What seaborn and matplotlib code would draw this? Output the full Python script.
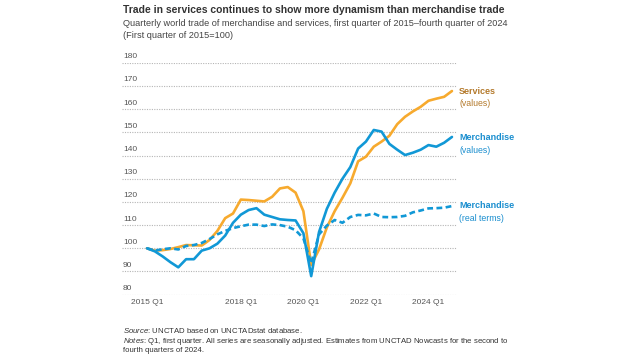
import pandas as pd
import numpy as np
from matplotlib import pyplot as plt
from matplotlib import transforms
import seaborn as sns

# Quarterly index values, 2015 Q1 .. 2024 Q4 (2015 Q1 = 100)
quarters = [f"{y} Q{q}" for y in range(2015, 2025) for q in range(1, 5)]

services = [100, 99, 99.2, 99.7, 100.5, 101.4, 101.3, 101.2, 103.6, 107.5,
            113, 115, 121, 120.8, 120.5, 120.2, 122.2, 125.8, 126.4, 124,
            116, 92.8, 99.5, 109, 116, 121.8, 128, 137.5, 139.5, 143.8,
            146, 148.5, 153.5, 156.7, 159, 161, 163.6, 164.5, 165.3, 167.8]

merch_values = [100, 98.7, 96.5, 94, 91.8, 95.3, 95.3, 99, 100, 102,
                105.5, 111, 114.5, 116.5, 117.3, 114.5, 113.5, 112.5, 112.2, 112,
                106.5, 88, 107, 117, 124, 130, 135, 143, 146, 151,
                150.3, 145, 142.5, 140.2, 141.2, 142.5, 144.5, 143.8, 145.5, 148]

merch_real = [100, 99, 99.6, 100, 99.5, 101, 101.4, 102.3, 104, 106,
              107.5, 108.7, 109.5, 110.2, 110.2, 109.6, 110.3, 110, 109.3, 107.8,
              104.3, 93.5, 106, 109.8, 112.2, 111, 113.5, 114.4, 114.2, 115,
              113.5, 113.4, 113.5, 114, 115.5, 116.3, 117.2, 117.3, 117.5, 118.2]

xtick_pos = [0, 12, 20, 28, 36]
xtick_labels = ["2015 Q1", "2018 Q1", "2020 Q1", "2022 Q1", "2024 Q1"]
yticks = list(range(80, 190, 10))

orange = "#F7AA2E"
blue = "#1198D6"

df = pd.DataFrame({
    "t": list(range(len(quarters))) * 3,
    "value": services + merch_values + merch_real,
    "series": ["Services"] * 40 + ["Merchandise"] * 40 + ["Merchandise real"] * 40,
})

sns.set_style("white")
plt.rcParams["font.family"] = ["Liberation Sans", "DejaVu Sans"]
plt.rcParams["mathtext.fontset"] = "custom"
plt.rcParams["mathtext.it"] = "Liberation Sans:italic"
plt.rcParams["mathtext.rm"] = "Liberation Sans"

fig = plt.figure(figsize=(6.4, 3.6), dpi=100)
ax = fig.add_axes([0.1906, 0.1814, 0.5234, 0.6444])

sns.lineplot(data=df, x="t", y="value", hue="series", style="series",
             palette={"Services": orange, "Merchandise": blue, "Merchandise real": blue},
             dashes={"Services": "", "Merchandise": "", "Merchandise real": (2.2, 1.3)},
             linewidth=1.9, legend=False, ax=ax, zorder=3)

ax.set_xlim(-3.2, 39.64)
ax.set_ylim(80, 180)
for s in ax.spines.values():
    s.set_visible(False)
ax.set_xlabel("")
ax.set_ylabel("")

# dotted gridlines with labels sitting above them
ax.set_yticks(yticks)
ax.set_yticklabels([])
ax.tick_params(axis="y", length=0)
ax.grid(axis="y", color="#B5B5B5", linestyle=(0, (1, 1.2)), linewidth=0.8, zorder=0)
ax.grid(axis="x", visible=False)
lab_tr = transforms.offset_copy(ax.get_yaxis_transform(), fig=fig, x=1, y=2.5, units="dots")
for v in yticks:
    ax.text(0, v, str(v), transform=lab_tr, ha="left", va="bottom",
            fontsize=6.0, color="#555555")

ax.set_xticks(xtick_pos)
ax.set_xticklabels(xtick_labels, fontsize=6.0, color="#555555")
ax.tick_params(axis="x", length=0, pad=3)

# series labels at the right end
lab_x = 459 / 640
fig.text(lab_x, 1 - 92 / 360, "Services", fontsize=6.5, fontweight="bold", color="#B47A2C", va="center")
fig.text(lab_x, 1 - 104 / 360, "(values)", fontsize=6.3, color="#B47A2C", va="center")
fig.text(lab_x, 1 - 138 / 360, "Merchandise", fontsize=6.5, fontweight="bold", color="#1A8ECF", va="center")
fig.text(lab_x, 1 - 150 / 360, "(values)", fontsize=6.3, color="#1A8ECF", va="center")
fig.text(lab_x, 1 - 206 / 360, "Merchandise", fontsize=6.5, fontweight="bold", color="#1A8ECF", va="center")
fig.text(lab_x, 1 - 219 / 360, "(real terms)", fontsize=6.3, color="#1A8ECF", va="center")

# title block
tx = 123 / 640
fig.text(tx, 1 - 10 / 360, "Trade in services continues to show more dynamism than merchandise trade",
         fontsize=7.5, fontweight="bold", color="#333333", va="center")
fig.text(tx, 1 - 23 / 360,
         "Quarterly world trade of merchandise and services, first quarter of 2015\u2013fourth quarter of 2024",
         fontsize=6.6, color="#444444", va="center")
fig.text(tx, 1 - 35 / 360, "(First quarter of 2015=100)", fontsize=6.6, color="#444444", va="center")

# footnotes as one block
notes = ("$\\it{Source}$: UNCTAD based on UNCTADstat database.\n"
         "$\\it{Notes}$: Q1, first quarter. All series are seasonally adjusted. "
         "Estimates from UNCTAD Nowcasts for the second to\n"
         "fourth quarters of 2024.")
fig.text(tx, 1 - 326 / 360, notes, fontsize=5.6, color="#333333", va="top", linespacing=1.12)

fig.savefig("out.png", dpi=100, facecolor="white")
